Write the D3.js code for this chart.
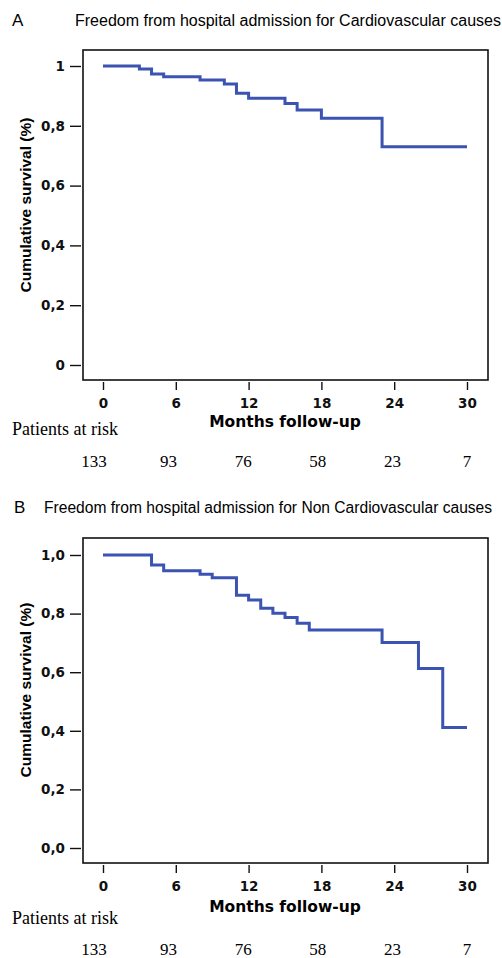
<!DOCTYPE html>
<html>
<head>
<meta charset="utf-8">
<script src="https://cdn.jsdelivr.net/npm/d3@7"></script>
<style>
	body { margin: 0; background: #fff; }
	.tick text { font-family: "DejaVu Sans", sans-serif; font-weight: bold; }
</style>
</head>
<body>
<svg id="chart" width="502" height="958"></svg>
<script>
// Kaplan-Meier step values
var monthsA = [0, 3, 4, 5, 8, 10, 11, 12, 15, 16, 18, 23];
var survA   = [1, 0.99, 0.973, 0.964, 0.953, 0.94, 0.909, 0.892, 0.875, 0.853, 0.825, 0.73];

var monthsB = [0, 4, 5, 8, 9, 11, 12, 13, 14, 15, 16, 17, 23, 26, 28];
var survB   = [1, 0.966, 0.946, 0.934, 0.922, 0.863, 0.846, 0.818, 0.801, 0.787, 0.767, 0.744, 0.701, 0.613, 0.411];

var lastMonth = 30;
var xTicks = [0, 6, 12, 18, 24, 30];
var yTicks = [0, 0.2, 0.4, 0.6, 0.8, 1];
var riskA = [133, 93, 76, 58, 23, 7];
var riskB = [133, 93, 76, 58, 23, 7];

var yLabelsA = ["0", "0,2", "0,4", "0,6", "0,8", "1"];
var yLabelsB = ["0,0", "0,2", "0,4", "0,6", "0,8", "1,0"];

var titleA = "Freedom from hospital admission for Cardiovascular causes";
var titleB = "Freedom from hospital admission for Non Cardiovascular causes";

var svg = d3.select("#chart");
var lineColour = "#3b54b2";

function drawPanel(opt) {
	var g = svg.append("g");

	var x = d3.scaleLinear().domain([0, lastMonth]).range([103, 467]);
	var y = d3.scaleLinear().domain([0, 1]).range([opt.y0, opt.y1]);
	//the risk table columns sit slightly tighter than the ticks
	var xRisk = d3.scaleLinear().domain([0, lastMonth]).range([94, 467]);

	//panel letter + title
	g.append("text")
		.attr("x", opt.letterX).attr("y", opt.titleY)
		.style("font-family", "Liberation Sans, Arial, sans-serif")
		.style("font-size", "17px")
		.text(opt.letter);
	g.append("text")
		.attr("x", opt.titleX).attr("y", opt.titleY)
		.style("font-family", "Liberation Sans, Arial, sans-serif")
		.style("font-size", opt.titleSize)
		.text(opt.title);

	//frame
	g.append("rect")
		.attr("x", 83).attr("y", opt.top)
		.attr("width", 488 - 83).attr("height", opt.bottom - opt.top)
		.attr("fill", "none").attr("stroke", "#111").attr("stroke-width", 1.6);

	//y axis (offset from frame, SPSS style)
	var yAxis = g.append("g")
		.attr("transform", "translate(81,0)")
		.call(d3.axisLeft(y).tickValues(yTicks).tickSize(11).tickPadding(5)
			.tickFormat(function (d, i) { return opt.yLabels[i]; }));
	yAxis.select(".domain").remove();
	yAxis.selectAll(".tick line").attr("stroke", "#111").attr("stroke-width", 1.4);
	yAxis.selectAll(".tick text").style("font-size", "13.5px").attr("fill", "#111");

	//x axis
	var xAxis = g.append("g")
		.attr("transform", "translate(0," + (opt.bottom + 2) + ")")
		.call(d3.axisBottom(x).tickValues(xTicks).tickSize(8).tickPadding(8));
	xAxis.select(".domain").remove();
	xAxis.selectAll(".tick line").attr("stroke", "#111").attr("stroke-width", 1.4);
	xAxis.selectAll(".tick text").style("font-size", "13.5px").attr("fill", "#111");

	//axis titles
	g.append("text")
		.attr("transform", "translate(31," + opt.yLabelMid + ") rotate(-90)")
		.attr("text-anchor", "middle")
		.style("font-family", "Liberation Sans, Arial, sans-serif")
		.style("font-weight", "bold")
		.style("font-size", "15.5px")
		.text("Cumulative survival (%)");
	g.append("text")
		.attr("x", 285).attr("y", opt.monthsY)
		.attr("text-anchor", "middle")
		.style("font-family", "DejaVu Sans, sans-serif")
		.style("font-weight", "bold")
		.style("font-size", "15.5px")
		.text("Months follow-up");

	//patients at risk table
	g.append("text")
		.attr("x", 12).attr("y", opt.riskTitleY)
		.style("font-family", "Liberation Serif, serif")
		.style("font-size", "18px")
		.text("Patients at risk");
	g.selectAll(".risk")
		.data(opt.risk)
		.enter().append("text")
		.attr("class", "risk")
		.attr("x", function (d, i) { return xRisk(xTicks[i]); })
		.attr("y", opt.riskY)
		.attr("text-anchor", "middle")
		.style("font-family", "Liberation Serif, serif")
		.style("font-size", "17px")
		.text(function (d) { return d; });

	//survival step curve
	var pts = opt.months.map(function (m, i) { return [m, opt.surv[i]]; });
	pts.push([lastMonth, opt.surv[opt.surv.length - 1]]);
	var line = d3.line()
		.x(function (d) { return x(d[0]); })
		.y(function (d) { return y(d[1]); })
		.curve(d3.curveStepAfter);
	g.append("path")
		.datum(pts)
		.attr("d", line)
		.attr("fill", "none")
		.attr("stroke", lineColour)
		.attr("stroke-width", 3);
}

drawPanel({
	letter: "A", letterX: 12, titleX: 75, titleY: 26, title: titleA, titleSize: "16px",
	top: 50, bottom: 380, y0: 365, y1: 66, yLabels: yLabelsA, yLabelMid: 205,
	monthsY: 427, riskTitleY: 435, riskY: 467, risk: riskA,
	months: monthsA, surv: survA
});

drawPanel({
	letter: "B", letterX: 14, titleX: 44, titleY: 513, title: titleB, titleSize: "15.6px",
	top: 538, bottom: 863, y0: 848, y1: 555, yLabels: yLabelsB, yLabelMid: 690,
	monthsY: 912, riskTitleY: 924, riskY: 955, risk: riskB,
	months: monthsB, surv: survB
});
</script>
</body>
</html>
